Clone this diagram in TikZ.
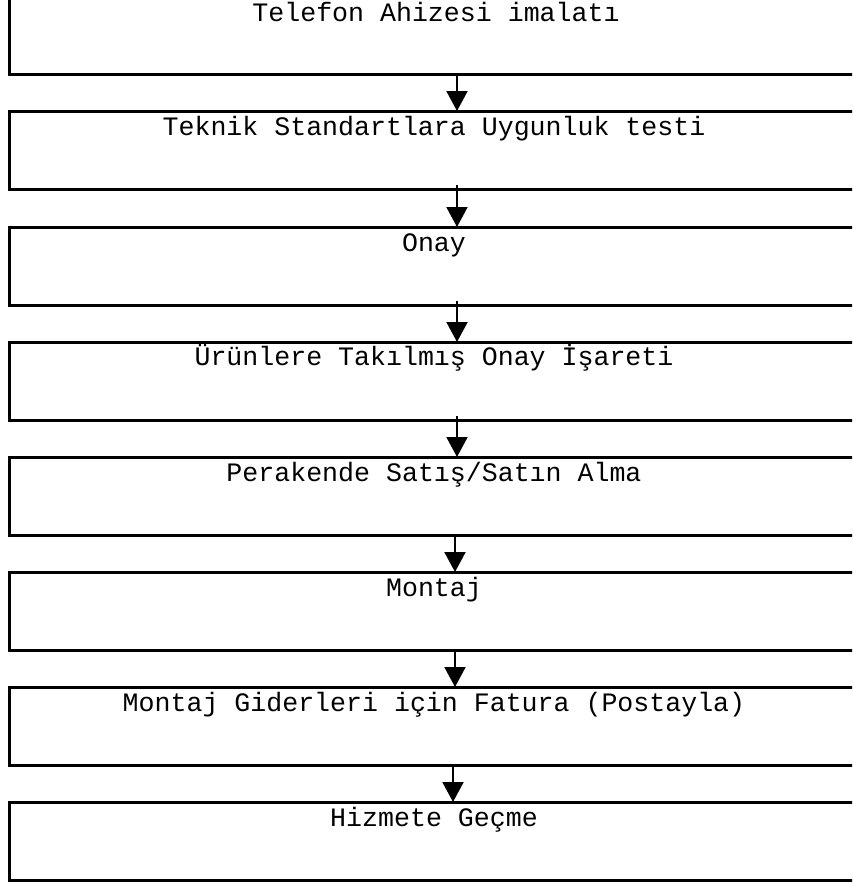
\documentclass[tikz,border=0pt]{standalone}
\usepackage{fontspec}
\setmonofont{Liberation Mono}
\usetikzlibrary{arrows.meta}
\begin{document}
\begin{tikzpicture}[x=1pt,y=-1pt,
  stepbox/.style={draw=black,line width=3pt,rectangle,inner sep=0pt,outer sep=0pt,
    minimum width=880pt,minimum height=78pt,anchor=north west},
  steptext/.style={anchor=base,inner sep=0pt,text height=17pt,text depth=5pt,font=\ttfamily\fontsize{26.6}{30}\selectfont},
  flow/.style={line width=2pt,-{Triangle[length=20pt,width=21pt]}}]
\useasboundingbox (0,0) rectangle (852,884);
\clip (0,0) rectangle (852,884);
\node[stepbox] (b1) at (9,-4) {};
\node[stepbox] (b2) at (9,111) {};
\node[stepbox] (b3) at (9,227) {};
\node[stepbox] (b4) at (9,342) {};
\node[stepbox] (b5) at (9,457) {};
\node[stepbox] (b6) at (9,572) {};
\node[stepbox] (b7) at (9,687) {};
\node[stepbox] (b8) at (9,802) {};
\node[steptext] (t1) at (436,21) {Telefon Ahizesi imalatı};
\node[steptext] (t2) at (434,135) {Teknik Standartlara Uygunluk testi};
\node[steptext] (t3) at (434,251) {Onay};
\node[steptext] (t4) at (434,365) {Ürünlere Takılmış Onay İşareti};
\node[steptext] (t5) at (434,481) {Perakende Satış/Satın Alma};
\node[steptext] (t6) at (434,596) {Montaj};
\node[steptext] (t7) at (434,711) {Montaj Giderleri için Fatura (Postayla)};
\node[steptext] (t8) at (434,826) {Hizmete Geçme};
\draw[flow] ([xshift=448pt]b1.south west) -- ([xshift=448pt]b2.north west);
\draw[flow] ([xshift=448pt,yshift=4pt]b2.south west) -- ([xshift=448pt]b3.north west);
\draw[flow] ([xshift=448pt,yshift=4pt]b3.south west) -- ([xshift=448pt]b4.north west);
\draw[flow] ([xshift=448pt,yshift=4pt]b4.south west) -- ([xshift=448pt]b5.north west);
\draw[flow] ([xshift=446pt]b5.south west) -- ([xshift=446pt]b6.north west);
\draw[flow] ([xshift=446pt]b6.south west) -- ([xshift=446pt]b7.north west);
\draw[flow] ([xshift=444pt]b7.south west) -- ([xshift=444pt]b8.north west);
\end{tikzpicture}
\end{document}
